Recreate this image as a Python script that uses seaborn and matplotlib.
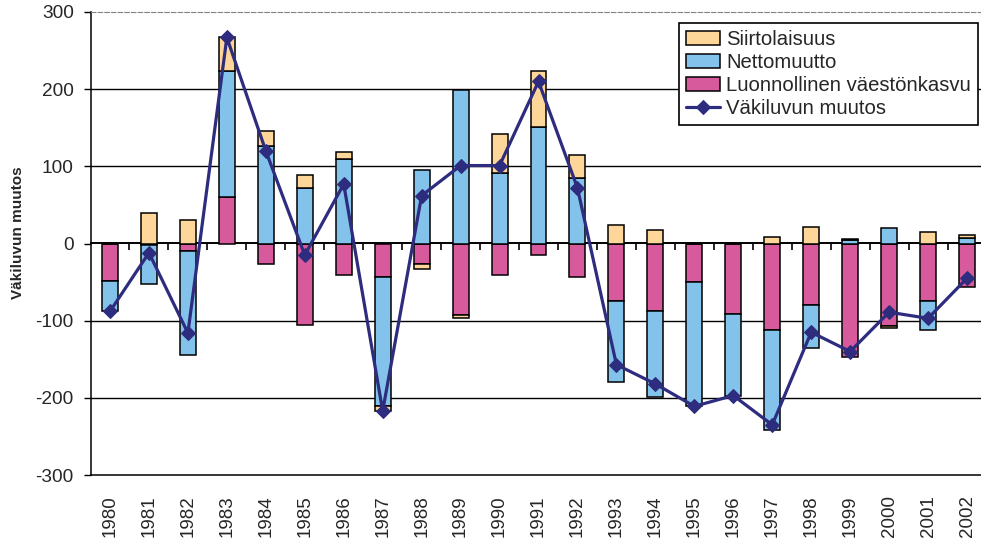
import numpy as np
import pandas as pd
import matplotlib
matplotlib.use('Agg')
import matplotlib.pyplot as plt
import seaborn as sns

# --- Data ---
years = [str(y) for y in range(1980, 2003)]
luonnollinen = [-48, -2, -10, 60, -27, -105, -41, -43, -27, -93, -41, -15,
                -43, -75, -87, -50, -91, -112, -80, -147, -107, -75, -56]
nettomuutto = [-40, -50, -135, 164, 126, 72, 110, -167, 95, 199, 91, 151,
               85, -105, -112, -161, -106, -130, -56, 4, 20, -37, 7]
siirtolaisuus = [0, 40, 30, 43, 20, 17, 8, -7, -6, -4, 51, 72,
                 30, 24, 17, 0, 0, 8, 22, 2, -2, 15, 4]
vakiluvun_muutos = [-88, -12, -116, 267, 120, -15, 77, -217, 62, 101, 101, 210,
                    72, -157, -182, -211, -197, -235, -115, -140, -89, -97, -45]
yticks = [-300, -200, -100, 0, 100, 200, 300]

df = pd.DataFrame({
    'vuosi': years,
    'Luonnollinen väestönkasvu': luonnollinen,
    'Nettomuutto': nettomuutto,
    'Siirtolaisuus': siirtolaisuus,
})

colors = {
    'Luonnollinen väestönkasvu': '#D65A9C',
    'Nettomuutto': '#83C2EA',
    'Siirtolaisuus': '#FFD699',
}
line_color = '#2E2C7E'

sns.set_style('white')
plt.rcParams['font.family'] = ['Liberation Sans', 'DejaVu Sans']

fig = plt.figure(figsize=(9.81, 5.39), dpi=100)
ax = fig.add_axes([90.5 / 981, 64 / 539, 896 / 981, 463 / 539])

# --- stacked bars, positives and negatives stacked separately ---
pos_base = np.zeros(len(years))
neg_base = np.zeros(len(years))
for col in ['Luonnollinen väestönkasvu', 'Nettomuutto', 'Siirtolaisuus']:
    vals = df[col].to_numpy(dtype=float)
    bottom = np.where(vals >= 0, pos_base, neg_base)
    sns.barplot(data=df, x='vuosi', y=col, bottom=bottom, color=colors[col],
                saturation=1, edgecolor='black', linewidth=1.1, width=0.41,
                label=col, ax=ax, zorder=2)
    pos_base = pos_base + np.where(vals >= 0, vals, 0)
    neg_base = neg_base + np.where(vals < 0, vals, 0)

# --- population change line ---
sns.lineplot(x=np.arange(len(years)), y=vakiluvun_muutos, color=line_color,
             linewidth=2.3, marker='D', markersize=7, markeredgecolor=line_color,
             label='Väkiluvun muutos', ax=ax, zorder=4)

# --- axes styling ---
ax.set_ylim(-300, 300)
ax.set_xlim(-0.5, len(years) - 0.5)
ax.set_yticks(yticks)
ax.set_yticklabels([str(v) for v in yticks])
ax.set_xlabel('')
ax.set_ylabel('')
ax.set_axisbelow(True)
ax.yaxis.grid(True, color='black', linewidth=1.0)
ax.get_ygridlines()[-1].set_visible(False)
ax.get_ygridlines()[0].set_visible(False)
ax.get_ygridlines()[3].set_visible(False)

ax.tick_params(axis='y', direction='out', length=5, width=1, pad=7,
               labelsize=13.7, left=True, color='black')
ax.tick_params(axis='x', length=0, pad=14.5, labelsize=13.5)
plt.setp(ax.get_xticklabels(), rotation=90)

ax.spines['left'].set_color('black')
ax.spines['left'].set_linewidth(1.1)
ax.spines['bottom'].set_color('black')
ax.spines['bottom'].set_linewidth(1.1)
ax.spines['top'].set_color('#808080')
ax.spines['top'].set_linestyle((0, (4, 2)))
ax.spines['right'].set_visible(False)

# zero line with category separators pointing down
zero = ax.secondary_xaxis(0.5)
zero.set_xticks(np.arange(len(years) - 1) + 0.5)
zero.set_xticklabels([])
zero.tick_params(direction='in', length=5, width=1.2, color='black')
for sp in zero.spines.values():
    sp.set_linewidth(1.4)
    sp.set_color('black')

fig.text(18 / 981, 1 - 233 / 539, 'Väkiluvun muutos', rotation=90,
         ha='center', va='center', fontsize=11, fontweight='bold')

# --- legend in the Excel order ---
handles, labels = ax.get_legend_handles_labels()
by_label = dict(zip(labels, handles))
leg_order = ['Siirtolaisuus', 'Nettomuutto', 'Luonnollinen väestönkasvu', 'Väkiluvun muutos']
leg = ax.legend([by_label[k] for k in leg_order], leg_order,
                loc='upper right', bbox_to_anchor=(978 / 981, 1 - 23 / 539),
                bbox_transform=fig.transFigure, borderaxespad=0,
                fontsize=14.6, frameon=True, fancybox=False, framealpha=1,
                edgecolor='black', handlelength=1.7, handletextpad=0.3,
                labelspacing=0.2, borderpad=0.35)
leg.get_frame().set_linewidth(1.2)
leg.set_zorder(10)

fig.savefig('out.png', dpi=100)
